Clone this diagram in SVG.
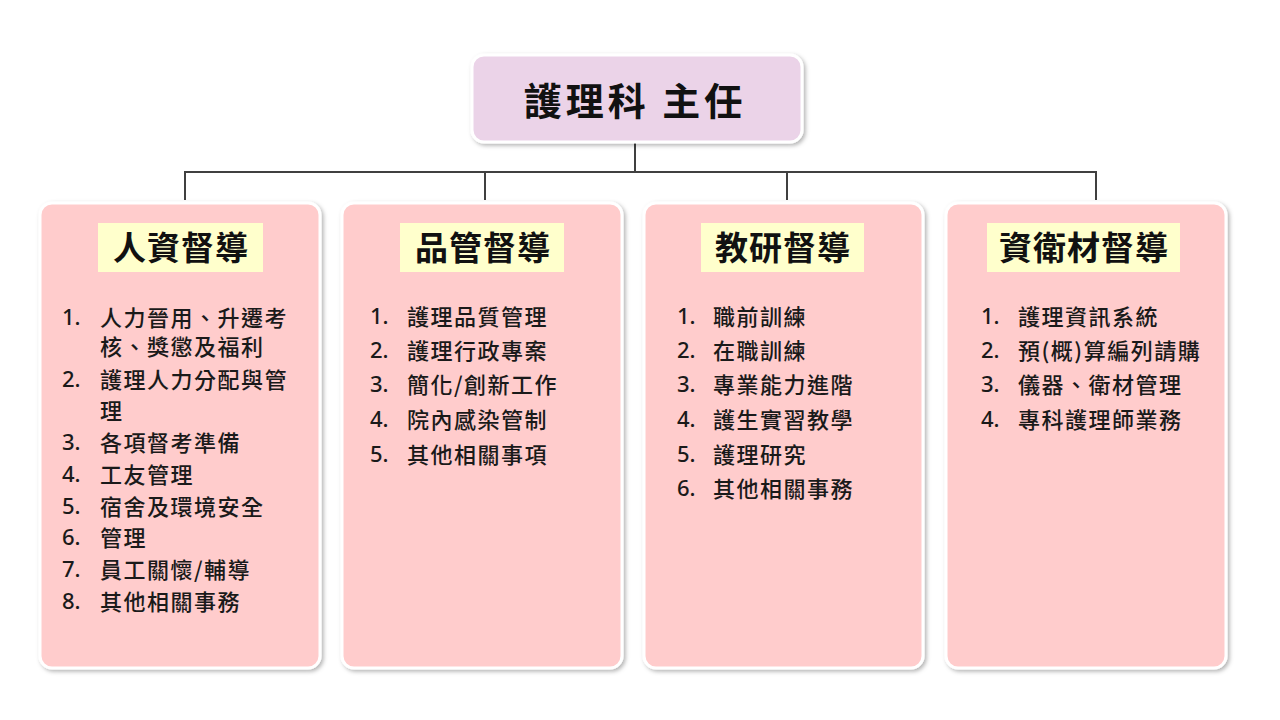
<svg xmlns="http://www.w3.org/2000/svg" width="1280" height="720" viewBox="0 0 1280 720">
<defs>
<filter id="sh" x="-10%" y="-10%" width="120%" height="120%">
<feDropShadow dx="2" dy="2" stdDeviation="2" flood-color="#000" flood-opacity="0.3"/>
</filter>
<style>
.card{fill:#FFCCCC;stroke:#FFFFFF;stroke-width:3;filter:url(#sh)}
.top{fill:#EBD3E8;stroke:#FFFFFF;stroke-width:3;filter:url(#sh)}
.hl{fill:#FFFFCC}
.h{font-family:"Noto Sans CJK TC","Noto Sans CJK SC",sans-serif;font-weight:700;font-size:33px;fill:#111;text-anchor:middle;dominant-baseline:central;letter-spacing:1px}
.t{font-family:"Noto Sans CJK TC","Noto Sans CJK SC",sans-serif;font-weight:500;font-size:22px;fill:#1a1a1a;dominant-baseline:central;letter-spacing:1.5px}
.n{font-family:"Noto Sans","Noto Sans CJK TC",sans-serif;font-weight:500;font-size:22px;fill:#1a1a1a;dominant-baseline:central}
.c{fill:none;stroke:#404040;stroke-width:2}
</style>
</defs>
<rect width="1280" height="720" fill="#FFFFFF"/>
<g id="connectors">
<path class="c" d="M635 142 V172 M185 172 H1096 M185 171 V200 M485 171 V200 M787 171 V200 M1096 171 V200"/>
</g>
<g id="director">
<rect class="top" x="472" y="55" width="330" height="87" rx="12"/>
<text x="635" y="98" style="font-family:'Noto Sans CJK TC','Noto Sans CJK SC',sans-serif;font-weight:700;font-size:38px;fill:#111;text-anchor:middle;dominant-baseline:central;letter-spacing:4px">護理科 主任</text>
</g>
<g id="hr">
<rect class="card" x="40" y="203" width="280" height="465" rx="12"/>
<rect class="hl" x="98" y="223" width="165" height="49"/>
<text class="h" x="181" y="246">人資督導</text>
<text class="n" x="62" y="316">1.</text><text class="t" x="100" y="316">人力晉用、升遷考</text>
<text class="t" x="100" y="345">核、獎懲及福利</text>
<text class="n" x="62" y="378">2.</text><text class="t" x="100" y="378">護理人力分配與管</text>
<text class="t" x="100" y="409">理</text>
<text class="n" x="62" y="441">3.</text><text class="t" x="100" y="441">各項督考準備</text>
<text class="n" x="62" y="473">4.</text><text class="t" x="100" y="473">工友管理</text>
<text class="n" x="62" y="505">5.</text><text class="t" x="100" y="505">宿舍及環境安全</text>
<text class="n" x="62" y="536">6.</text><text class="t" x="100" y="536">管理</text>
<text class="n" x="62" y="568">7.</text><text class="t" x="100" y="568">員工關懷/輔導</text>
<text class="n" x="62" y="600">8.</text><text class="t" x="100" y="600">其他相關事務</text>
</g>
<g id="qc">
<rect class="card" x="342" y="203" width="280" height="465" rx="12"/>
<rect class="hl" x="400" y="223" width="164" height="49"/>
<text class="h" x="483" y="246">品管督導</text>
<text class="n" x="370" y="315">1.</text><text class="t" x="407" y="315">護理品質管理</text>
<text class="n" x="370" y="349">2.</text><text class="t" x="407" y="349">護理行政專案</text>
<text class="n" x="370" y="383">3.</text><text class="t" x="407" y="383">簡化/創新工作</text>
<text class="n" x="370" y="418">4.</text><text class="t" x="407" y="418">院內感染管制</text>
<text class="n" x="370" y="453">5.</text><text class="t" x="407" y="453">其他相關事項</text>
</g>
<g id="edu">
<rect class="card" x="644" y="203" width="279" height="465" rx="12"/>
<rect class="hl" x="701" y="223" width="163" height="49"/>
<text class="h" x="783" y="246">教研督導</text>
<text class="n" x="677" y="315">1.</text><text class="t" x="713" y="315">職前訓練</text>
<text class="n" x="677" y="349">2.</text><text class="t" x="713" y="349">在職訓練</text>
<text class="n" x="677" y="383">3.</text><text class="t" x="713" y="383">專業能力進階</text>
<text class="n" x="677" y="418">4.</text><text class="t" x="713" y="418">護生實習教學</text>
<text class="n" x="677" y="453">5.</text><text class="t" x="713" y="453">護理研究</text>
<text class="n" x="677" y="487">6.</text><text class="t" x="713" y="487">其他相關事務</text>
</g>
<g id="info">
<rect class="card" x="946" y="203" width="280" height="465" rx="12"/>
<rect class="hl" x="987" y="223" width="193" height="49"/>
<text class="h" x="1084" y="246">資衛材督導</text>
<text class="n" x="981" y="315">1.</text><text class="t" x="1018" y="315">護理資訊系統</text>
<text class="n" x="981" y="349">2.</text><text class="t" x="1018" y="349">預(概)算編列請購</text>
<text class="n" x="981" y="383">3.</text><text class="t" x="1018" y="383">儀器、衛材管理</text>
<text class="n" x="981" y="418">4.</text><text class="t" x="1018" y="418">專科護理師業務</text>
</g>
</svg>
